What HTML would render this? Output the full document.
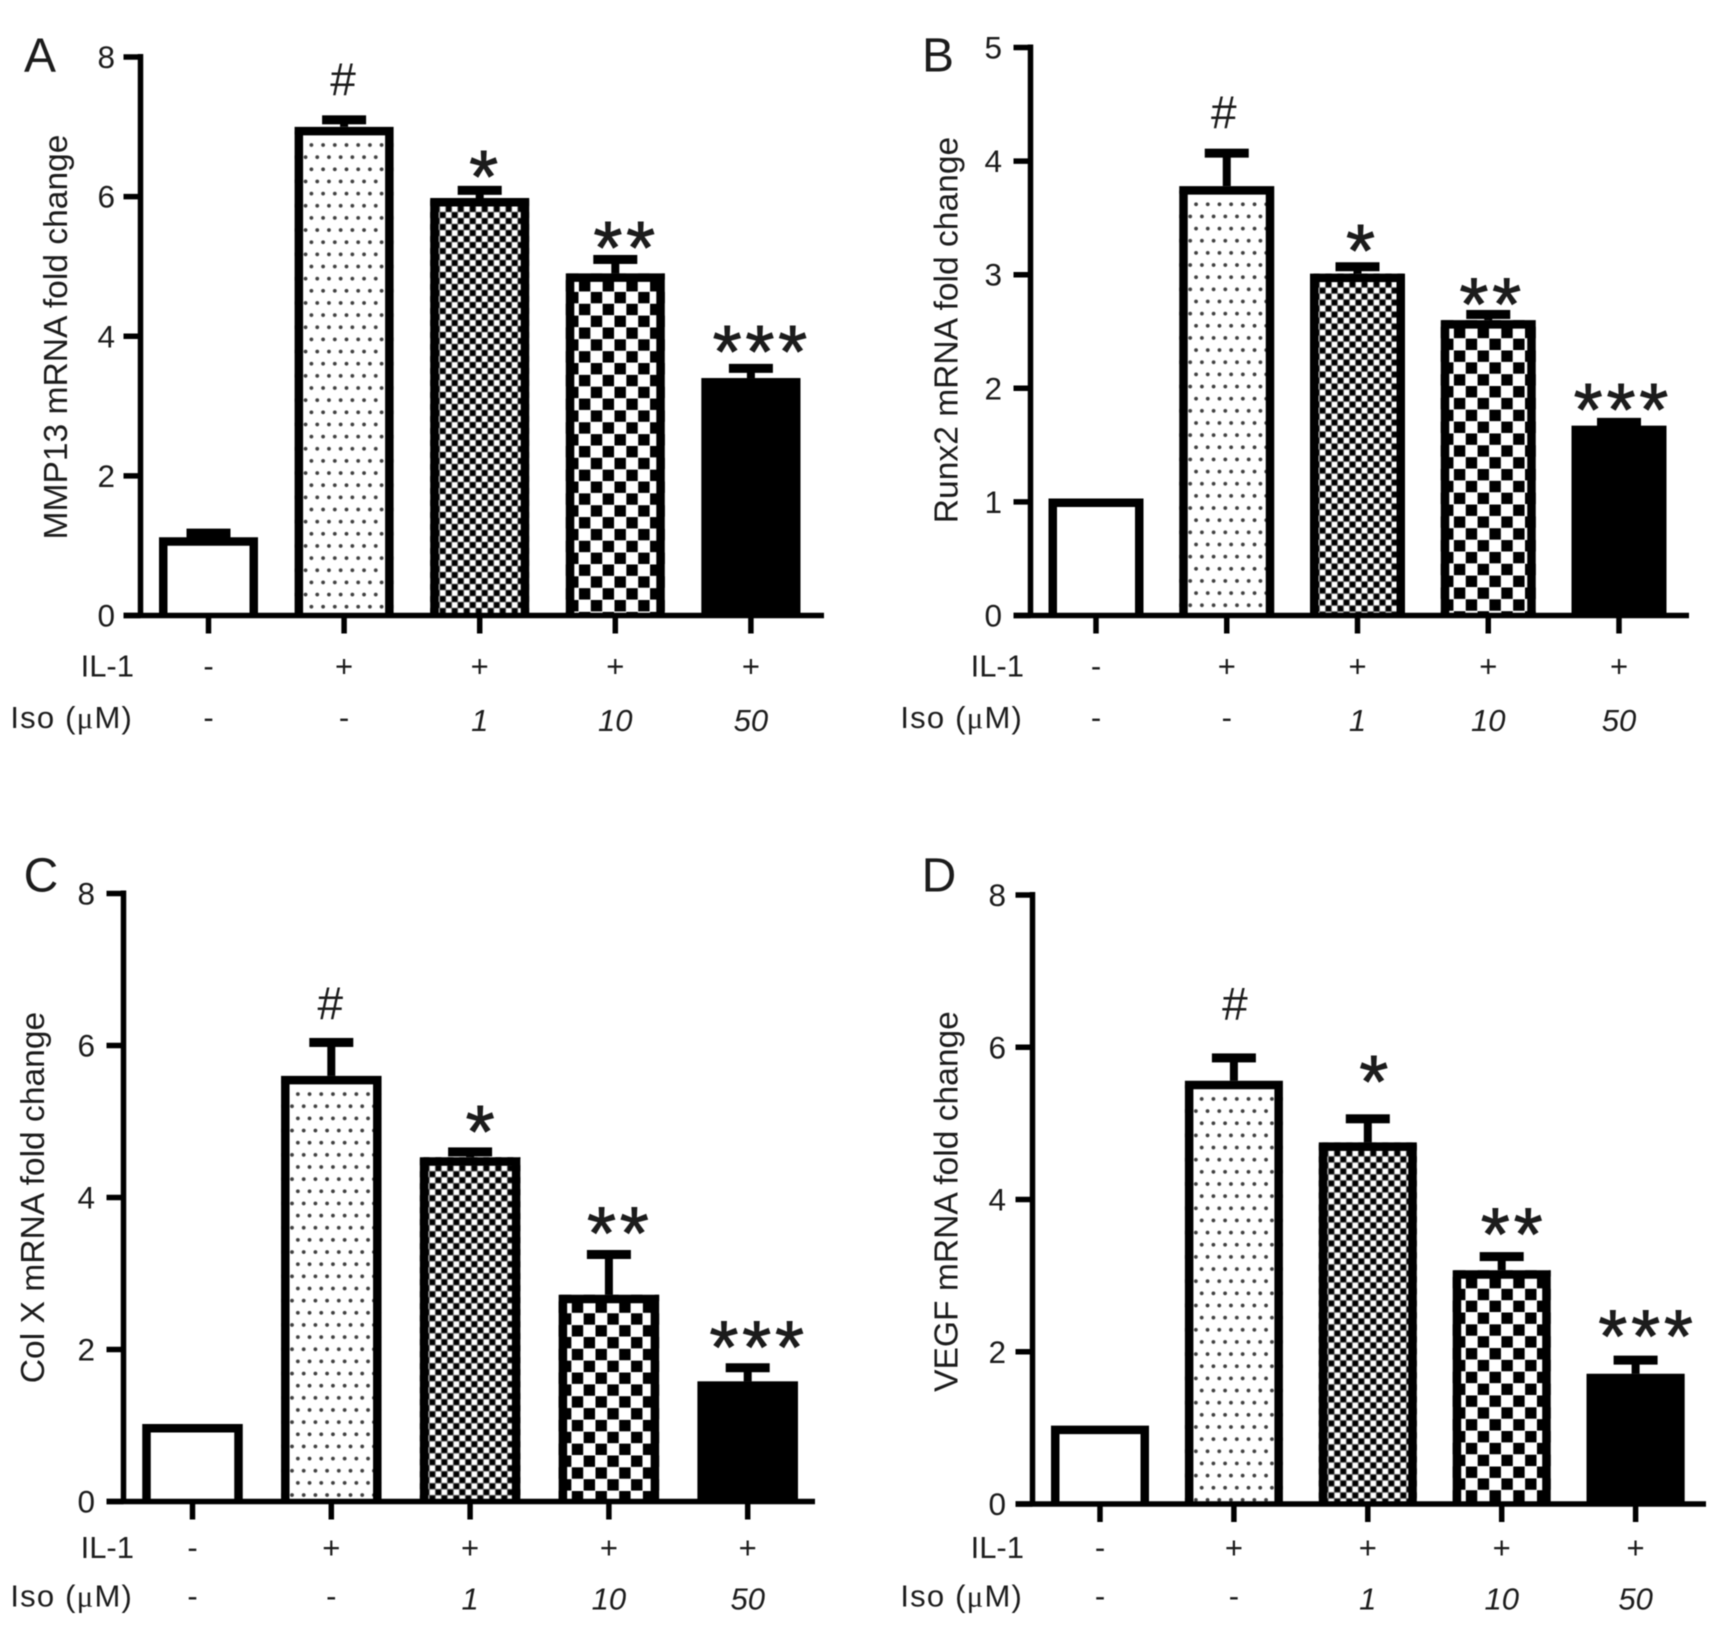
<!DOCTYPE html>
<html lang="en">
<head>
<meta charset="utf-8">
<title>mRNA fold change bar charts</title>
<style>
html,body{margin:0;padding:0;background:#fff;}
svg{display:block;filter:blur(0.55px);}
text{font-family:"Liberation Sans",Arial,sans-serif;fill:#1c1c1c;}
</style>
</head>
<body>
<svg id="figure" width="1719" height="1626" viewBox="0 0 1719 1626" xmlns="http://www.w3.org/2000/svg">
<defs id="defs"></defs>
<rect x="0" y="0" width="1719" height="1626" fill="#ffffff"></rect>
</svg>
<script>
// Shared categories
const groupKeys = ['control', 'il1', 'il1-iso1', 'il1-iso10', 'il1-iso50'];
const il1Labels = ['-', '+', '+', '+', '+'];
const isoLabels = ['-', '-', '1', '10', '50'];
const sigLabels = ['', '#', '*', '**', '***'];
const fillKinds = ['empty', 'dots', 'fine', 'coarse', 'solid'];

// Panel A
const ticksA = [0, 2, 4, 6, 8];
const valuesA = [1.12, 7.0, 5.98, 4.9, 3.4];
const errorsA = [0.06, 0.10, 0.11, 0.2, 0.14];
const sigLevelsA = [0, 7.68, 6.41, 5.43, 3.94];

// Panel B
const ticksB = [0, 1, 2, 3, 4, 5];
const valuesB = [1.03, 3.78, 3.01, 2.6, 1.67];
const errorsB = [0, 0.29, 0.06, 0.05, 0.03];
const sigLevelsB = [0, 4.43, 3.29, 2.84, 1.91];

// Panel C
const ticksC = [0, 2, 4, 6, 8];
const valuesC = [1.02, 5.6, 4.53, 2.72, 1.58];
const errorsC = [0, 0.44, 0.07, 0.53, 0.18];
const sigLevelsC = [0, 6.55, 4.98, 3.68, 2.18];

// Panel D
const ticksD = [0, 2, 4, 6, 8];
const valuesD = [1.03, 5.56, 4.75, 3.07, 1.71];
const errorsD = [0, 0.30, 0.31, 0.18, 0.18];
const sigLevelsD = [0, 6.57, 5.66, 3.69, 2.35];

const NS = 'http://www.w3.org/2000/svg';
const svg = document.getElementById('figure');
const defs = document.getElementById('defs');

function make(parent, tag, attrs, content) {
  const node = document.createElementNS(NS, tag);
  for (const k in attrs) node.setAttribute(k, attrs[k]);
  if (content !== undefined) node.textContent = content;
  parent.appendChild(node);
  return node;
}

function patternFor(kind, id, px, py) {
  if (kind === 'empty') return '#ffffff';
  if (kind === 'solid') return '#000000';
  if (kind === 'dots') {
    const p = make(defs, 'pattern', {id: id, patternUnits: 'userSpaceOnUse', width: 11.7, height: 24.3, patternTransform: 'translate(' + px + ' ' + py + ')'});
    make(p, 'rect', {x: 0, y: 0, width: 11.7, height: 24.3, fill: '#ffffff'});
    make(p, 'circle', {cx: 8.3, cy: 9.7, r: 1.9, fill: '#404040'});
    make(p, 'circle', {cx: 2.45, cy: 21.85, r: 1.9, fill: '#404040'});
  } else if (kind === 'fine') {
    const p = make(defs, 'pattern', {id: id, patternUnits: 'userSpaceOnUse', width: 12, height: 12, patternTransform: 'translate(' + (px + 1) + ' ' + (py - 0.5) + ')'});
    make(p, 'rect', {x: 0, y: 0, width: 12, height: 12, fill: '#707070'});
    make(p, 'rect', {x: 0.4, y: 0.4, width: 5.2, height: 5.2, fill: '#ffffff'});
    make(p, 'rect', {x: 6.4, y: 6.4, width: 5.2, height: 5.2, fill: '#ffffff'});
    make(p, 'rect', {x: 6.4, y: 0.4, width: 5.2, height: 5.2, fill: '#000000'});
    make(p, 'rect', {x: 0.4, y: 6.4, width: 5.2, height: 5.2, fill: '#000000'});
  } else {
    const p = make(defs, 'pattern', {id: id, patternUnits: 'userSpaceOnUse', width: 23.7, height: 23.7, patternTransform: 'translate(' + (px + 16.5) + ' ' + (py + 10) + ')'});
    make(p, 'rect', {x: 0, y: 0, width: 23.7, height: 23.7, fill: '#ffffff'});
    make(p, 'rect', {x: 0, y: 0, width: 11.4, height: 11.4, fill: '#000000'});
    make(p, 'rect', {x: 11.85, y: 11.85, width: 11.4, height: 11.4, fill: '#000000'});
  }
  return 'url(#' + id + ')';
}

function drawPanel(cfg) {
  const yScale = v => cfg.y0 - (cfg.y0 - cfg.yTop) * (v / cfg.ticks[cfg.ticks.length - 1]);
  const xScale = i => cfg.firstX + cfg.stepX * i;

  const g = make(svg, 'g', {});
  
  

  const letter = make(g, 'text', {x: cfg.letterX, y: cfg.letterY, 'font-size': 48, 'text-anchor': 'middle', 'dominant-baseline': 'central'}, cfg.letter);
  
  

  const title = make(g, 'text', {x: 0, y: 0, 'font-size': 33.6, 'text-anchor': 'middle', dy: '0.35em', transform: 'translate(' + cfg.titleX + ' ' + cfg.titleY + ') rotate(-90)'}, cfg.title);
  
  

  cfg.values.forEach(function (v, i) {
    const cx = xScale(i);
    const left = cx - cfg.barW / 2;
    const top = yScale(v);
    const bw = 8.5;
    const bar = make(g, 'g', {});
    
    

    const fill = patternFor(fillKinds[i], 'pat-' + cfg.key + '-' + i, left + bw, top + bw);
    make(bar, 'rect', {x: left, y: top, width: cfg.barW, height: cfg.y0 - top, fill: fill});
    make(bar, 'path', {d: 'M' + (left + bw / 2) + ' ' + cfg.y0 + 'V' + (top + bw / 2) + 'H' + (left + cfg.barW - bw / 2) + 'V' + cfg.y0, fill: 'none', stroke: '#000', 'stroke-width': bw});

    if (cfg.errors[i] > 0) {
      const capY = yScale(v + cfg.errors[i]);
      const err = make(g, 'g', {});
      
      
      make(err, 'rect', {x: cx - 4, y: capY, width: 8, height: Math.max(0, top - capY), fill: '#000'});
      make(err, 'rect', {x: cx - 22, y: capY - 4.5, width: 44, height: 9, fill: '#000'});
    }

    if (sigLabels[i]) {
      const isHash = sigLabels[i] === '#';
      const isSingle = sigLabels[i] === '*';
      const sy = yScale(cfg.sigLevels[i]);
      const sig = make(g, 'text', {
        x: cx + (isHash ? cfg.hashDx : (isSingle ? cfg.singleDx : cfg.starDx)),
        y: isHash ? sy + 16 : (isSingle ? sy + 34 : sy + 36.5),
        'font-size': isHash ? 46 : 74,
        'letter-spacing': isHash ? 0 : 4,
        'text-anchor': 'middle',
        stroke: isHash ? 'none' : '#1c1c1c',
        'stroke-width': isHash ? 0 : 1
      }, sigLabels[i]);
      
      
    }
  });

  const axisY = make(g, 'g', {});
  
  
  make(axisY, 'line', {x1: cfg.axisX, x2: cfg.axisX, y1: yScale(cfg.ticks[cfg.ticks.length - 1]) - 3, y2: cfg.y0, stroke: '#000', 'stroke-width': 5.5});
  cfg.ticks.forEach(function (t) {
    const ty = yScale(t);
    make(axisY, 'line', {x1: cfg.axisX - 17, x2: cfg.axisX, y1: ty, y2: ty, stroke: '#000', 'stroke-width': 5.5});
    const lab = make(axisY, 'text', {x: cfg.tickRight, y: ty, dy: '0.35em', 'font-size': 31.5, 'text-anchor': 'end'}, String(t));
    
    
  });

  const axisX = make(g, 'g', {});
  
  
  make(axisX, 'line', {x1: cfg.axisX - 17, x2: cfg.axisEnd, y1: cfg.y0, y2: cfg.y0, stroke: '#000', 'stroke-width': 5.5});
  groupKeys.forEach(function (k, i) {
    const cx = xScale(i);
    make(axisX, 'line', {x1: cx, x2: cx, y1: cfg.y0, y2: cfg.y0 + 18, stroke: '#000', 'stroke-width': 5.5});
    const il = make(axisX, 'text', {x: cx, y: cfg.ilY, dy: '0.35em', 'font-size': 31, 'text-anchor': 'middle'}, il1Labels[i]);
    
    
    const numeric = isoLabels[i] !== '-';
    const iso = make(axisX, 'text', {x: cx, y: cfg.isoY + (numeric ? 3 : 0), dy: '0.35em', 'font-size': 31, 'font-style': numeric ? 'italic' : 'normal', 'text-anchor': 'middle'}, isoLabels[i]);
    
    
  });

  const ilHead = make(g, 'text', {x: cfg.rowRight, y: cfg.ilY, dy: '0.35em', 'font-size': 31, 'text-anchor': 'end'}, 'IL-1');
  
  

  const isoHead = make(g, 'text', {x: cfg.rowRight - 1, y: cfg.isoY, dy: '0.35em', 'font-size': 31, 'letter-spacing': 1.2, 'text-anchor': 'end'});
  
  
  make(isoHead, 'tspan', {}, 'Iso (');
  make(isoHead, 'tspan', {style: 'font-family:"Liberation Serif",serif'}, '\u03BC');
  make(isoHead, 'tspan', {}, 'M)');
}

drawPanel({key: 'a', letter: 'A', title: 'MMP13 mRNA fold change', ticks: ticksA, values: valuesA, errors: errorsA, sigLevels: sigLevelsA,
  axisX: 140.5, axisEnd: 824, y0: 615.5, yTop: 57, firstX: 208.5, stepX: 135.6, barW: 99, tickRight: 115, rowRight: 134, ilY: 665.5, isoY: 717,
  letterX: 40, letterY: 56, titleX: 55, titleY: 337, starDx: 11, singleDx: 6, hashDx: -1});
drawPanel({key: 'b', letter: 'B', title: 'Runx2 mRNA fold change', ticks: ticksB, values: valuesB, errors: errorsB, sigLevels: sigLevelsB,
  axisX: 1030.5, axisEnd: 1689, y0: 615.5, yTop: 47.5, firstX: 1096, stepX: 130.75, barW: 95, tickRight: 1002, rowRight: 1024, ilY: 665.5, isoY: 717,
  letterX: 938, letterY: 56, titleX: 945.5, titleY: 330, starDx: 4, singleDx: 5, hashDx: -3});
drawPanel({key: 'c', letter: 'C', title: 'Col X mRNA fold change', ticks: ticksC, values: valuesC, errors: errorsC, sigLevels: sigLevelsC,
  axisX: 123.5, axisEnd: 815, y0: 1501.5, yTop: 893.5, firstX: 192.5, stepX: 138.8, barW: 100.5, tickRight: 95, rowRight: 134, ilY: 1547, isoY: 1595.5,
  letterX: 41, letterY: 876, titleX: 32, titleY: 1197.5, starDx: 11, singleDx: 12, hashDx: -1});
drawPanel({key: 'd', letter: 'D', title: 'VEGF mRNA fold change', ticks: ticksD, values: valuesD, errors: errorsD, sigLevels: sigLevelsD,
  axisX: 1032.5, axisEnd: 1706, y0: 1504, yTop: 895, firstX: 1100, stepX: 133.9, barW: 98, tickRight: 1006, rowRight: 1024, ilY: 1547, isoY: 1595.5,
  letterX: 939, letterY: 876, titleX: 945.5, titleY: 1201.5, starDx: 12, singleDx: 8, hashDx: 1});
</script>
</body>
</html>
